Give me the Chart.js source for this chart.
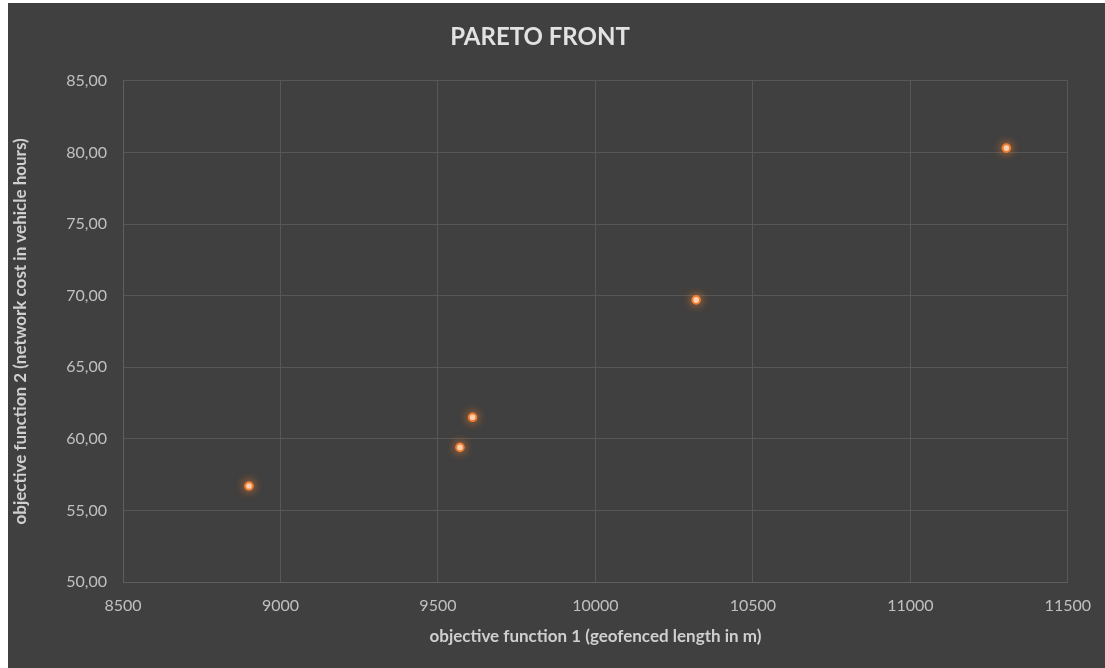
<!DOCTYPE html>
<html>
<head>
<meta charset="utf-8">
<script src="https://cdn.jsdelivr.net/npm/chart.js@4/dist/chart.umd.min.js"></script>
<style>
  html, body { margin: 0; padding: 0; background: #ffffff; }
  #frame { position: absolute; left: 8px; top: 3px; width: 1097px; height: 665px; background: #404040; }
  canvas { display: block; }
</style>
</head>
<body>
<div id="frame"><canvas id="c" width="1097" height="665"></canvas></div>
<script>
// Pareto front solutions: geofenced length (m) vs network cost (vehicle hours)
const geofencedLength = [8900, 9570, 9610, 10320, 11305];
const networkCost = [56.7, 59.4, 61.5, 69.7, 80.3];

// Axis ticks
const xTickValues = [8500, 9000, 9500, 10000, 10500, 11000, 11500];
const yTickValues = [50, 55, 60, 65, 70, 75, 80, 85];
const yTickLabels = ['50,00', '55,00', '60,00', '65,00', '70,00', '75,00', '80,00', '85,00'];

const points = geofencedLength.map((x, i) => ({ x: x, y: networkCost[i] }));

// soft orange halo around the markers
const glow = {
  id: 'glow',
  beforeDatasetsDraw(chart) {
    const ctx = chart.ctx;
    ctx.save();
    ctx.shadowColor = 'rgba(237,125,49,0.85)';
    ctx.shadowBlur = 10;
  },
  afterDatasetsDraw(chart) {
    chart.ctx.restore();
  }
};

const fontFamily = 'Lato, "Open Sans", sans-serif';

new Chart(document.getElementById('c'), {
  type: 'scatter',
  data: {
    datasets: [{
      label: 'Pareto front',
      data: points,
      pointRadius: 3.8,
      pointHoverRadius: 3.8,
      pointBorderWidth: 2,
      pointBackgroundColor: '#fde6d2',
      pointBorderColor: '#ED7D31'
    }]
  },
  options: {
    responsive: false,
    animation: false,
    layout: { padding: { left: 0, right: 33, top: 0, bottom: 0 } },
    plugins: {
      legend: { display: false },
      tooltip: { enabled: false },
      title: {
        display: true,
        text: 'PARETO FRONT',
        color: '#e2e2e2',
        font: { family: fontFamily, size: 24, weight: 'bold', lineHeight: 1.2 },
        padding: { top: 20, bottom: 29 }
      }
    },
    scales: {
      x: {
        type: 'linear',
        min: 8500,
        max: 11500,
        afterBuildTicks(scale) { scale.ticks = xTickValues.map(v => ({ value: v })); },
        afterFit(scale) { scale.height = 86; },
        ticks: {
          color: '#c0c0c0',
          padding: 14,
          font: { family: fontFamily, size: 16 },
          callback: (v) => String(v)
        },
        grid: { color: '#575757', lineWidth: 1, drawTicks: false },
        border: { color: '#5e5e5e', width: 1 },
        title: {
          display: true,
          text: 'objective function 1 (geofenced length in m)',
          color: '#cfcfcf',
          font: { family: fontFamily, size: 17, weight: 'bold' },
          padding: { top: 4, bottom: 21 }
        }
      },
      y: {
        type: 'linear',
        min: 50,
        max: 85,
        afterBuildTicks(scale) { scale.ticks = yTickValues.map(v => ({ value: v })); },
        afterFit(scale) { scale.width = 115; },
        ticks: {
          color: '#c0c0c0',
          padding: 16,
          font: { family: fontFamily, size: 16 },
          callback: (v) => yTickLabels[yTickValues.indexOf(v)]
        },
        grid: { color: '#575757', lineWidth: 1, drawTicks: false },
        border: { color: '#5e5e5e', width: 1 },
        title: {
          display: true,
          text: 'objective function 2 (network cost in vehicle hours)',
          color: '#cfcfcf',
          font: { family: fontFamily, size: 17, weight: 'bold' },
          padding: { top: 2, bottom: 4 }
        }
      }
    }
  },
  plugins: [glow]
});
</script>
</body>
</html>
